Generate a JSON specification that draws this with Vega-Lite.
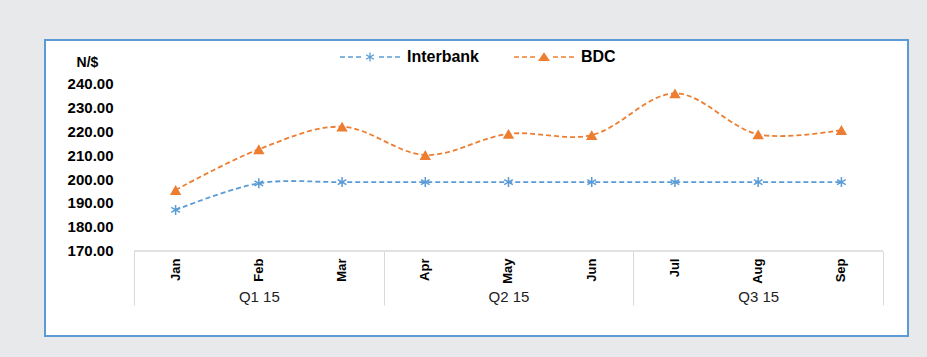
{
  "$schema": "https://vega.github.io/schema/vega-lite/v6.json",
  "width": 863,
  "height": 296,
  "padding": {"left": 45, "top": 40, "right": 19, "bottom": 21},
  "autosize": {"type": "none"},
  "background": "#e8e9eb",
  "config": {
    "font": "Liberation Sans",
    "view": {"fill": "white", "stroke": "#5b9bd5", "strokeWidth": 2}
  },
  "datasets": {
    "main": [
      {"month": "Jan", "quarter": "Q1 15", "series": "Interbank", "value": 187.1},
      {"month": "Feb", "quarter": "Q1 15", "series": "Interbank", "value": 198.2},
      {"month": "Mar", "quarter": "Q1 15", "series": "Interbank", "value": 198.7},
      {"month": "Apr", "quarter": "Q2 15", "series": "Interbank", "value": 198.7},
      {"month": "May", "quarter": "Q2 15", "series": "Interbank", "value": 198.7},
      {"month": "Jun", "quarter": "Q2 15", "series": "Interbank", "value": 198.7},
      {"month": "Jul", "quarter": "Q3 15", "series": "Interbank", "value": 198.7},
      {"month": "Aug", "quarter": "Q3 15", "series": "Interbank", "value": 198.7},
      {"month": "Sep", "quarter": "Q3 15", "series": "Interbank", "value": 198.7},
      {"month": "Jan", "quarter": "Q1 15", "series": "BDC", "value": 195.4},
      {"month": "Feb", "quarter": "Q1 15", "series": "BDC", "value": 212.4},
      {"month": "Mar", "quarter": "Q1 15", "series": "BDC", "value": 221.8},
      {"month": "Apr", "quarter": "Q2 15", "series": "BDC", "value": 210.0},
      {"month": "May", "quarter": "Q2 15", "series": "BDC", "value": 218.8},
      {"month": "Jun", "quarter": "Q2 15", "series": "BDC", "value": 218.3},
      {"month": "Jul", "quarter": "Q3 15", "series": "BDC", "value": 235.7},
      {"month": "Aug", "quarter": "Q3 15", "series": "BDC", "value": 218.6},
      {"month": "Sep", "quarter": "Q3 15", "series": "BDC", "value": 220.4}
    ],
    "quarters": [
      {"quarter": "Q1 15"},
      {"quarter": "Q2 15"},
      {"quarter": "Q3 15"}
    ]
  },
  "layer": [
    {
      "data": {"name": "main"},
      "encoding": {
        "x": {
          "field": "month",
          "type": "ordinal",
          "sort": ["Jan", "Feb", "Mar", "Apr", "May", "Jun", "Jul", "Aug", "Sep"],
          "scale": {"type": "band", "paddingInner": 0, "paddingOuter": 0.6849, "align": 0.7807},
          "axis": {
            "orient": "bottom",
            "offset": -85,
            "title": null,
            "domain": false,
            "ticks": false,
            "tickSize": 0,
            "grid": false,
            "labelPadding": 7,
            "labelAngle": -90,
            "labelFontWeight": "bold",
            "labelFontSize": 13,
            "labelColor": "#000000"
          }
        },
        "y": {
          "field": "value",
          "type": "quantitative",
          "scale": {"domain": [134.58, 257.92], "nice": false, "zero": false},
          "axis": {
            "orient": "left",
            "offset": -68,
            "title": "N/$",
            "titleAngle": 0,
            "titleX": -26,
            "titleY": 22,
            "titleAlign": "center",
            "titleBaseline": "middle",
            "titleFontSize": 14,
            "titleFontWeight": "bold",
            "titleColor": "#000000",
            "domain": false,
            "ticks": false,
            "tickSize": 0,
            "grid": false,
            "labelPadding": 0,
            "values": [170, 180, 190, 200, 210, 220, 230, 240],
            "format": ".2f",
            "labelFontWeight": "bold",
            "labelFontSize": 15,
            "labelColor": "#000000"
          }
        }
      },
      "layer": [
        {
          "mark": {"type": "line", "interpolate": "catmull-rom", "strokeDash": [5, 3], "strokeWidth": 1.8},
          "encoding": {
            "color": {
              "field": "series",
              "type": "nominal",
              "scale": {"domain": ["Interbank", "BDC"], "range": ["#5b9bd5", "#ed7d31"]},
              "legend": null
            }
          }
        },
        {
          "mark": {"type": "point", "filled": true, "opacity": 1},
          "encoding": {
            "color": {
              "field": "series",
              "type": "nominal",
              "scale": {"domain": ["Interbank", "BDC"], "range": ["#5b9bd5", "#ed7d31"]},
              "legend": null
            },
            "shape": {
              "field": "series",
              "type": "nominal",
              "scale": {
                "domain": ["Interbank", "BDC"],
                "range": [
                  "M-0.15,-1L0.15,-1L0.15,1L-0.15,1ZM-0.941,-0.37L-0.791,-0.63L0.941,0.37L0.791,0.63ZM-0.791,0.63L-0.941,0.37L0.791,-0.63L0.941,-0.37Z",
                  "triangle-up"
                ]
              },
              "legend": null
            },
            "size": {
              "field": "series",
              "type": "nominal",
              "scale": {"domain": ["Interbank", "BDC"], "range": [100, 130]},
              "legend": null
            }
          }
        },
        {
          "mark": {"type": "point", "filled": true, "opacity": 0},
          "encoding": {
            "color": {
              "field": "series",
              "type": "nominal",
              "scale": {"domain": ["Interbank", "BDC"], "range": ["#5b9bd5", "#ed7d31"]},
              "legend": {
                "title": null,
                "orient": "none",
                "legendX": 295,
                "legendY": -13,
                "direction": "horizontal",
                "symbolSize": 3600,
                "symbolOpacity": 1,
                "symbolStrokeWidth": 0,
                "labelFontSize": 16,
                "labelFontWeight": "bold",
                "labelColor": "#000000",
                "labelOffset": 7,
                "columnPadding": 34,
                "padding": 0
              }
            },
            "shape": {
              "field": "series",
              "type": "nominal",
              "scale": {
                "domain": ["Interbank", "BDC"],
                "range": [
                  "M-1,-0.025L-0.833,-0.025L-0.833,0.025L-1,0.025ZM-0.733,-0.025L-0.567,-0.025L-0.567,0.025L-0.733,0.025ZM-0.467,-0.025L-0.3,-0.025L-0.3,0.025L-0.467,0.025ZM0.3,-0.025L0.467,-0.025L0.467,0.025L0.3,0.025ZM0.567,-0.025L0.733,-0.025L0.733,0.025L0.567,0.025ZM0.833,-0.025L1,-0.025L1,0.025L0.833,0.025ZM-0.022,-0.15L0.022,-0.15L0.022,0.15L-0.022,0.15ZM-0.141,-0.056L-0.119,-0.095L0.141,0.056L0.119,0.095ZM-0.119,0.095L-0.141,0.056L0.119,-0.095L0.141,-0.056Z",
                  "M-1,-0.025L-0.833,-0.025L-0.833,0.025L-1,0.025ZM-0.733,-0.025L-0.567,-0.025L-0.567,0.025L-0.733,0.025ZM-0.467,-0.025L-0.3,-0.025L-0.3,0.025L-0.467,0.025ZM0.3,-0.025L0.467,-0.025L0.467,0.025L0.3,0.025ZM0.567,-0.025L0.733,-0.025L0.733,0.025L0.567,0.025ZM0.833,-0.025L1,-0.025L1,0.025L0.833,0.025ZM0,-0.16L0.2,0.13L-0.2,0.13Z"
                ]
              },
              "legend": {
                "title": null,
                "orient": "none",
                "legendX": 295,
                "legendY": -13,
                "direction": "horizontal",
                "symbolSize": 3600,
                "symbolOpacity": 1,
                "symbolStrokeWidth": 0,
                "labelFontSize": 16,
                "labelFontWeight": "bold",
                "labelColor": "#000000",
                "labelOffset": 7,
                "columnPadding": 34,
                "padding": 0
              }
            }
          }
        }
      ],
      "resolve": {
        "scale": {"color": "independent", "shape": "independent"},
        "legend": {"color": "independent", "shape": "independent"}
      }
    },
    {
      "data": {"name": "quarters"},
      "mark": {"type": "bar", "fill": "transparent", "stroke": "#d9d9d9", "strokeWidth": 1},
      "encoding": {
        "x": {
          "field": "quarter",
          "type": "ordinal",
          "sort": ["Q1 15", "Q2 15", "Q3 15"],
          "scale": {"type": "band", "paddingInner": 0, "paddingOuter": 0.2283, "align": 0.7807},
          "axis": {
            "orient": "bottom",
            "offset": -85,
            "title": null,
            "domain": false,
            "ticks": true,
            "tickBand": "extent",
            "tickSize": 54,
            "tickColor": "#d9d9d9",
            "tickWidth": 1,
            "grid": false,
            "labelAngle": 0,
            "labelPadding": -16,
            "labelFontSize": 15,
            "labelColor": "#222222"
          }
        },
        "y": {"datum": 170, "type": "quantitative", "scale": {"domain": [134.58, 257.92], "nice": false, "zero": false}},
        "y2": {"datum": 170}
      }
    }
  ],
  "resolve": {
    "scale": {"x": "independent"},
    "axis": {"x": "independent"}
  }
}
